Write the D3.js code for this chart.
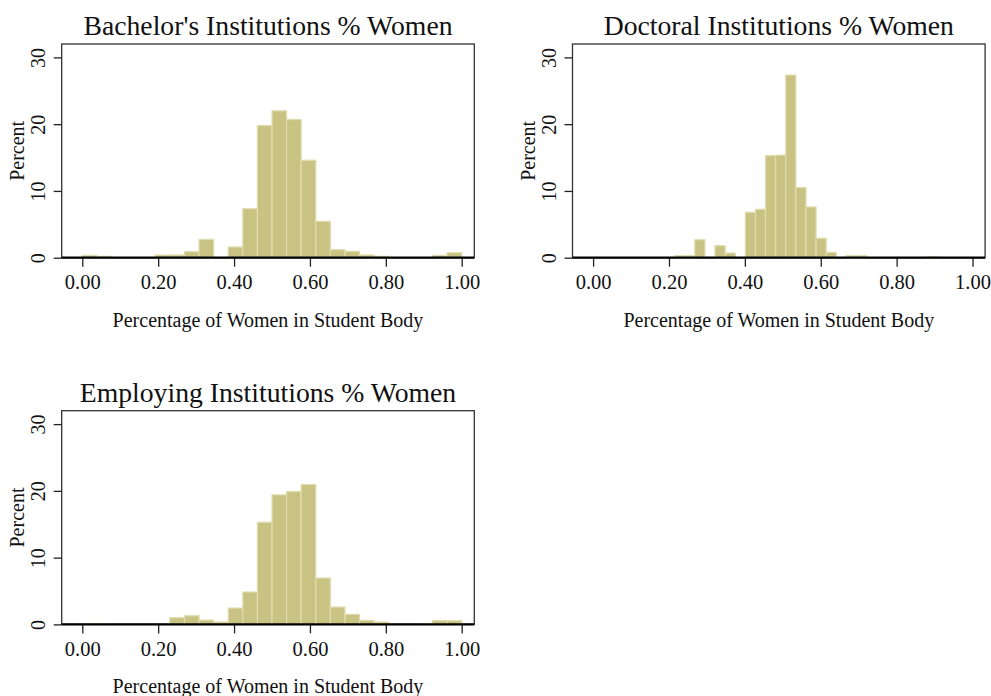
<!DOCTYPE html>
<html>
<head>
<meta charset="utf-8">
<script src="https://cdn.jsdelivr.net/npm/d3@7"></script>
<style>
  html, body { margin: 0; padding: 0; background: #fff; }
  svg { display: block; }
  text { font-family: "Liberation Serif", "Times New Roman", serif; fill: #111; }
</style>
</head>
<body>
<svg id="chart" width="991" height="696"></svg>
<script>
// ---- Data (percent of observations per bin; 26 equal-width bins) ----
const panelTitles = ["Bachelor's Institutions % Women", "Doctoral Institutions % Women", "Employing Institutions % Women"];
const bachelorRange = [0, 1];
const bachelorPct = [0.35, 0.2, 0, 0, 0, 0.4, 0.4, 0.9, 2.75, 0, 1.6, 7.33, 19.8, 22.0, 20.7, 14.6, 5.45, 1.2, 0.95, 0.4, 0.2, 0, 0, 0, 0.35, 0.75];
const doctoralRange = [0.2148, 0.9074];
const doctoralPct = [0.3, 0.3, 2.7, 0, 1.8, 0.7, 0, 6.8, 7.25, 15.3, 15.35, 27.35, 10.5, 7.6, 2.9, 0.8, 0, 0.3, 0.3, 0, 0, 0, 0, 0, 0, 0.15];
const employingRange = [0, 1];
const employingPct = [0.1, 0.1, 0, 0, 0, 0, 1.0, 1.3, 0.65, 0.35, 2.45, 4.85, 15.3, 19.4, 19.9, 20.95, 6.95, 2.6, 1.5, 0.6, 0.35, 0, 0, 0.1, 0.55, 0.55];
const xTicks = [0, 0.2, 0.4, 0.6, 0.8, 1.0];
const yTicks = [0, 10, 20, 30];
const xAxisTitle = "Percentage of Women in Student Body";
const yAxisTitle = "Percent";

// ---- Layout ----
const svg = d3.select("#chart");
const frameW = 412.6, frameH = 213.7;
const panels = [
  { title: panelTitles[0], pct: bachelorPct, range: bachelorRange, left: 61.7, top: 44 },
  { title: panelTitles[1], pct: doctoralPct, range: doctoralRange, left: 572.5, top: 44 },
  { title: panelTitles[2], pct: employingPct, range: employingRange, left: 61.7, top: 410.7 }
];
const barFill = "#c9c383";
const barEdge = "#e0dcae";

panels.forEach(p => {
  const g = svg.append("g").attr("transform", `translate(${p.left},${p.top})`);
  const x = d3.scaleLinear().domain([0, 1]).range([20.6, frameW - 12.6]);
  const y = d3.scaleLinear().domain([0, 30]).range([frameH, 13.4]);

  const n = p.pct.length;
  const w = (p.range[1] - p.range[0]) / n;
  const bins = p.pct.map((v, i) => ({ x0: p.range[0] + i * w, x1: p.range[0] + (i + 1) * w, v }));

  // frame
  g.append("rect").attr("x", 0).attr("y", 0).attr("width", frameW).attr("height", frameH)
    .attr("fill", "none").attr("stroke", "#333").attr("stroke-width", 1.3);

  // bars
  g.append("g").selectAll("rect").data(bins.filter(b => b.v > 0)).join("rect")
    .attr("x", d => x(d.x0))
    .attr("width", d => x(d.x1) - x(d.x0))
    .attr("y", d => y(d.v))
    .attr("height", d => y(0) - y(d.v))
    .attr("fill", barFill)
    .attr("stroke", barEdge)
    .attr("stroke-width", 1.2);

  // x axis
  const xAxis = g.append("g").attr("transform", `translate(0,${frameH})`)
    .call(d3.axisBottom(x).tickValues(xTicks).tickFormat(d3.format(".2f")).tickSize(9).tickPadding(8));
  xAxis.select(".domain").remove();
  xAxis.selectAll(".tick line").attr("stroke", "#222").attr("stroke-width", 1.3);
  xAxis.selectAll(".tick text").attr("font-size", 20.5).attr("font-family", "Liberation Serif").attr("fill", "#111");
  g.append("line").attr("x1", 0).attr("x2", frameW).attr("y1", frameH).attr("y2", frameH)
    .attr("stroke", "#000").attr("stroke-width", 2.2);

  // y axis
  const yAxis = g.append("g")
    .call(d3.axisLeft(y).tickValues(yTicks).tickFormat(d3.format("d")).tickSize(8).tickPadding(4));
  yAxis.select(".domain").remove();
  yAxis.selectAll(".tick line").attr("stroke", "#222").attr("stroke-width", 1.3);
  yAxis.selectAll(".tick text")
    .attr("font-size", 20).attr("font-family", "Liberation Serif").attr("fill", "#111")
    .attr("text-anchor", "middle").attr("dy", null)
    .attr("transform", "translate(-16.5,0) rotate(-90)")
    .attr("x", 0).attr("y", 0);

  // titles
  g.append("text").attr("x", frameW / 2).attr("y", -9).attr("text-anchor", "middle")
    .attr("font-size", 27.7).text(p.title);
  g.append("text").attr("x", frameW / 2).attr("y", frameH + 69).attr("text-anchor", "middle")
    .attr("font-size", 20).text(xAxisTitle);
  g.append("text").attr("transform", `translate(-38,${frameH / 2}) rotate(-90)`).attr("text-anchor", "middle")
    .attr("font-size", 20).text(yAxisTitle);
});
</script>
</body>
</html>
